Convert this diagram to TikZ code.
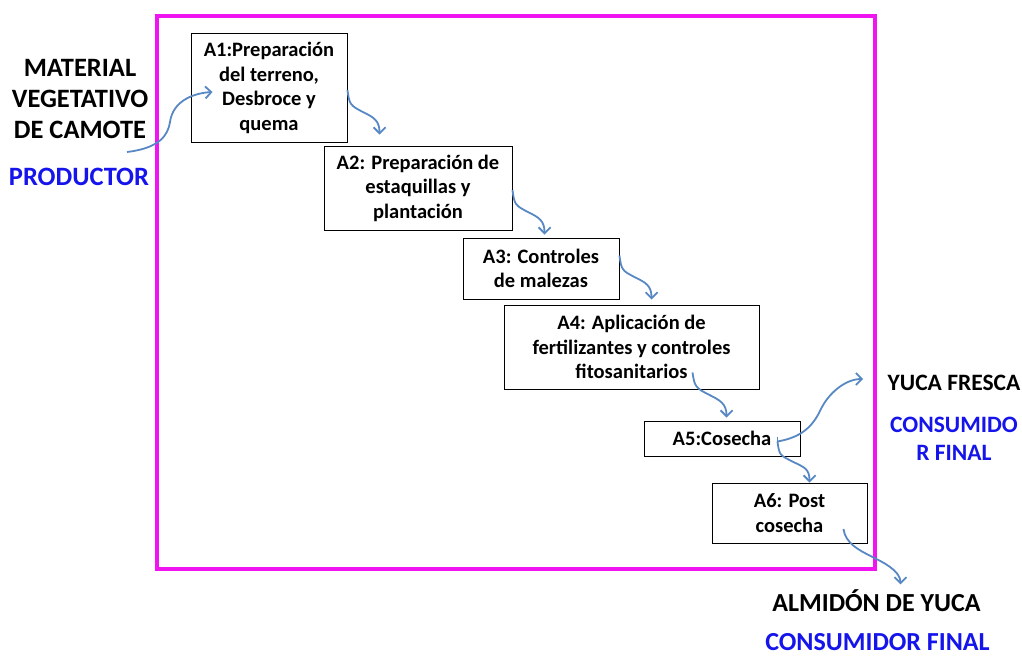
\documentclass[tikz,border=0pt]{standalone}
\usepackage{fontspec}
\setmainfont{Carlito}
\usetikzlibrary{calc,arrows.meta}
\definecolor{framepink}{RGB}{240,20,240}
\definecolor{flowblue}{RGB}{88,136,196}
\definecolor{actorblue}{RGB}{20,20,235}
\tikzset{
	stepbox/.style={draw=black, line width=0.9pt, fill=white, align=center, inner sep=2pt, font=\fontsize{20.5}{24.5}\selectfont\bfseries},
	outlabel/.style={align=center, font=\fontsize{26.5}{31}\selectfont\bfseries},
	sidelabel/.style={align=center, font=\fontsize{23.5}{28}\selectfont\bfseries},
	flow/.style={draw=flowblue, line width=1.8pt, -{Straight Barb[length=6pt,width=12pt]}},
}
\def\steparrow(#1)(#2){\draw[flow] (#1) .. controls +(2,14) and +(-14,-7) .. ($(#1)!0.5!(#2)$) .. controls +(10,5) and +(0,-14) .. (#2);}

\begin{document}
\begin{tikzpicture}[x=1pt,y=-1pt]
		%%%%% START %%%%%
		\useasboundingbox (0,0) rectangle (1022,657);
		\draw[framepink, line width=4pt] (157,16) rectangle (875,569);
		
		\node[stepbox, minimum width=156, minimum height=109] (A1) at (269,88) {A1:Preparación\\del terreno,\\Desbroce y\\quema};
		\node[stepbox, minimum width=188, minimum height=84] (A2) at (418,188) {A2: Preparación de\\estaquillas y\\plantación};
		\node[stepbox, minimum width=156, minimum height=61] (A3) at (541,268.5) {A3: Controles\\de malezas};
		\node[stepbox, minimum width=255, minimum height=84] (A4) at (631.5,347) {A4: Aplicación de\\fertilizantes y controles\\fitosanitarios};
		\node[stepbox, minimum width=156, minimum height=35] (A5) at (722,438.5) {A5:Cosecha};
		\node[stepbox, minimum width=155, minimum height=60] (A6) at (789.5,513) {A6: Post\\cosecha};
		
		\node[outlabel] (matlabel) at (80,98.5) {MATERIAL\\VEGETATIVO\\DE CAMOTE};
		\node[outlabel, text=actorblue] (prodlabel) at (79,177) {PRODUCTOR};
		\node[sidelabel] (yucalabel) at (954,383) {YUCA FRESCA};
		\node[sidelabel, text=actorblue] (conslabel1) at (954,439) {CONSUMIDO\\R FINAL};
		\node[outlabel, font=\fontsize{26}{31}\selectfont\bfseries] (almlabel) at (876.5,601) {ALMIDÓN DE YUCA};
		\node[outlabel, text=actorblue, inner sep=0pt, font=\fontsize{26}{31}\selectfont\bfseries] (conslabel2) at (877.5,642) {CONSUMIDOR FINAL};
		
		% free ends of the connectors
		\coordinate (mvin) at (127,152);
		\coordinate (A1in) at ($(A1.west)+(22,4)$);
		\coordinate (A2in) at ($(A2.north west)+(56,-11)$);
		\coordinate (A3in) at ($(A3.north west)+(82,-3)$);
		\coordinate (A4in) at ($(A4.north west)+(148,-5)$);
		\coordinate (A4out) at ($(A4.south)+(61,-17)$);
		\coordinate (A5in) at ($(A5.north west)+(83,-3)$);
		\coordinate (A5out) at ($(A5.east)+(-23,3)$);
		\coordinate (A6in) at ($(A6.north west)+(98,0)$);
		\coordinate (A6out) at ($(A6.east)+(-24,16)$);
		\coordinate (yucain) at ($(yucalabel.west)+(-21,-4)$);
		\coordinate (almin) at ($(almlabel.north)+(24,-2)$);
		
		\draw[flow] (mvin) .. controls (160,148) and (168,135) .. (170,122) .. controls (173,100) and (195,93) .. (A1in);
		\steparrow($(A1.east)+(0,2)$)(A2in)
		\steparrow($(A2.east)+(0,2)$)(A3in)
		\steparrow($(A3.east)+(0,-13)$)(A4in)
		\steparrow(A4out)(A5in)
		\draw[flowblue, line width=1.8pt] ($(A5out)+(0,-5)$) -- (A5out);
		\draw[flow] (A5out) .. controls +(23,-4) and +(-8,17) .. ($(A5out)!0.5!(yucain)$) .. controls +(8,-17) and +(-18,0) .. (yucain);
		\steparrow(A5out)(A6in)
		\steparrow(A6out)(almin)
		%%%%% END %%%%%
	\end{tikzpicture}
\end{document}
